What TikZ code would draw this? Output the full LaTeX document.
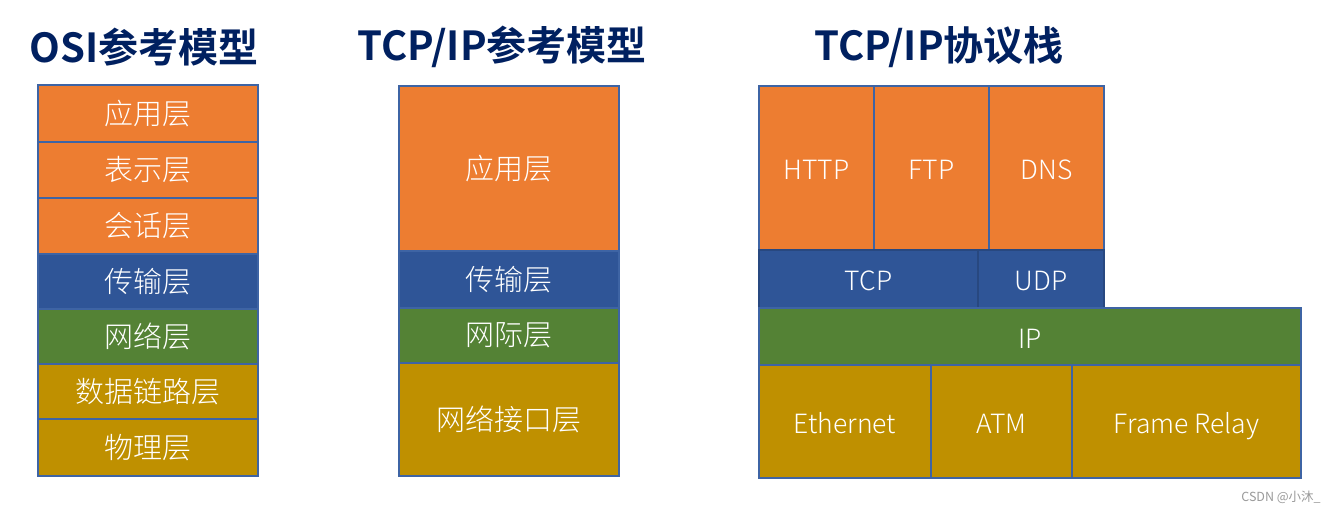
\documentclass[tikz,border=0pt]{standalone}
\usepackage{fontspec}
\newfontfamily\titlefont{Noto Sans CJK SC Bold}
\newfontfamily\cellfont{Noto Sans CJK SC Light}
\newfontfamily\markfont{Noto Sans CJK SC}
\definecolor{cOrange}{HTML}{ED7D31}
\definecolor{cBlue}{HTML}{2F5597}
\definecolor{cGreen}{HTML}{548235}
\definecolor{cGold}{HTML}{BF9000}
\definecolor{cLine}{HTML}{3E64A4}
\definecolor{cTitle}{HTML}{002060}
\definecolor{cMark}{HTML}{9A9A9A}
\tikzset{
  cell/.style={draw=cLine, line width=1.2pt, rectangle, inner sep=0pt,
    text=white, font=\cellfont\fontsize{29}{32}\selectfont},
  latin/.style={font=\cellfont\fontsize{26.5}{30}\selectfont, text height=23pt, text depth=0pt},
  ttl/.style={text=cTitle, inner sep=0pt, font=\titlefont\fontsize{40}{44}\selectfont},
}
\begin{document}
\begin{tikzpicture}[x=1pt,y=-1pt]
\useasboundingbox[fill=white] (0,0) rectangle (1337,512);
% titles
\node[ttl] (t1) at (144,47) {OSI参考模型};
\node[ttl] (t2) at (502,47) {TCP/IP参考模型};
\node[ttl] (t3) at (939,47) {TCP/IP协议栈};
% OSI model
\node[cell, fill=cOrange, minimum width=220pt, minimum height=57pt] (o1) at (148,113.5) {应用层};
\node[cell, fill=cOrange, minimum width=220pt, minimum height=56pt] (o2) at (148,170) {表示层};
\node[cell, fill=cOrange, minimum width=220pt, minimum height=56pt] (o3) at (148,226) {会话层};
\node[cell, fill=cBlue, minimum width=220pt, minimum height=55pt] (o4) at (148,281.5) {传输层};
\node[cell, fill=cGreen, minimum width=220pt, minimum height=55pt] (o5) at (148,336.5) {网络层};
\node[cell, fill=cGold, minimum width=220pt, minimum height=55pt] (o6) at (148,391.5) {数据链路层};
\node[cell, fill=cGold, minimum width=220pt, minimum height=57pt] (o7) at (148,447.5) {物理层};
% TCP/IP model
\node[cell, fill=cOrange, minimum width=220pt, minimum height=165pt] (m1) at (509,168.5) {应用层};
\node[cell, fill=cBlue, minimum width=220pt, minimum height=57pt] (m2) at (509,279.5) {传输层};
\node[cell, fill=cGreen, minimum width=220pt, minimum height=55pt] (m3) at (509,335.5) {网际层};
\node[cell, fill=cGold, minimum width=220pt, minimum height=113pt] (m4) at (509,419.5) {网络接口层};
% protocol stack
\node[cell, latin, fill=cOrange, minimum width=115pt, minimum height=164pt] (http) at (816.5,168) {HTTP};
\node[cell, latin, fill=cOrange, minimum width=115pt, minimum height=164pt] (ftp) at (931.5,168) {FTP};
\node[cell, latin, fill=cOrange, minimum width=115pt, minimum height=164pt] (dns) at (1046.5,168) {DNS};
\node[cell, latin, fill=cBlue, draw=cBlue!85!black, minimum width=219pt, minimum height=58pt] (tcp) at (868.5,279) {TCP};
\node[cell, latin, fill=cBlue, draw=cBlue!85!black, minimum width=126pt, minimum height=58pt] (udp) at (1041,279) {UDP};
\node[cell, latin, fill=cGreen, minimum width=542pt, minimum height=57pt] (ip) at (1030,336.5) {IP};
\node[cell, latin, fill=cGold, minimum width=172pt, minimum height=113pt] (eth) at (845,421.5) {Ethernet};
\node[cell, latin, fill=cGold, minimum width=141pt, minimum height=113pt] (atm) at (1001.5,421.5) {ATM};
\node[cell, latin, fill=cGold, minimum width=229pt, minimum height=113pt] (fr) at (1186.5,421.5) {Frame Relay};
% watermark
\node[text=cMark, inner sep=0pt, font=\markfont\fontsize{12.5}{14}\selectfont] (wm) at (1281,497) {CSDN @小沐\_};
\end{tikzpicture}
\end{document}
